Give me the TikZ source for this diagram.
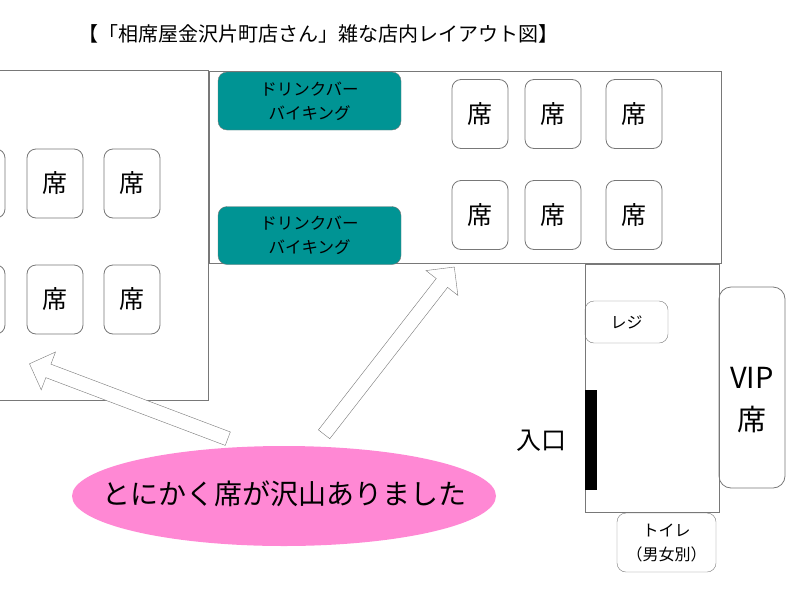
\documentclass[tikz,border=0pt]{standalone}
\usepackage{fontspec}
\setmainfont{Noto Sans CJK JP}
\usetikzlibrary{shapes.geometric, shapes.arrows}
\definecolor{barteal}{RGB}{0,148,148}
\definecolor{pinkoval}{RGB}{255,136,212}
\definecolor{linegray}{RGB}{120,120,120}
\tikzset{
    room/.style={draw=linegray, line width=0.8pt},
    seat/.style={draw=linegray, rounded corners=9pt, line width=0.8pt, minimum width=56pt, minimum height=69pt, font=\fontsize{25}{27}\selectfont},
    barbox/.style={draw=linegray, fill=barteal, rounded corners=9pt, minimum width=183pt, minimum height=58pt, align=center, font=\fontsize{16.5}{24}\selectfont},
    bigarrow/.style={draw=linegray, single arrow, fill=white, single arrow head extend=13pt, single arrow head indent=0pt, inner sep=0pt, minimum height=212pt}
}
\begin{document}
\begin{tikzpicture}[x=1pt,y=-1pt]
\useasboundingbox (0,0) rectangle (800,600);
% title
\node (title) at (318,34) {\fontsize{20}{22}\selectfont 【「相席屋金沢片町店さん」雑な店内レイアウト図】};
% rooms
\draw[room] (-10,70) rectangle (208,400);
\draw[room] (209,71) rectangle (721,263);
\draw[room] (585,264) rectangle (719,512);
% left seats
\node[seat] (sL1) at (-23,183.5) {};
\node[seat] (sL2) at (55,183.5) {席};
\node[seat] (sL3) at (132,183.5) {席};
\node[seat] (sL4) at (-23,299.5) {};
\node[seat] (sL5) at (55,299.5) {席};
\node[seat] (sL6) at (132,299.5) {席};
% drink bars
\node[barbox] (bar1) at (309.5,101) {ドリンクバー\\バイキング};
\node[barbox] (bar2) at (309.5,235.5) {ドリンクバー\\バイキング};
% top seats
\node[seat] (sT1) at (480,114) {席};
\node[seat] (sT2) at (553,114) {席};
\node[seat] (sT3) at (634,114) {席};
\node[seat] (sT4) at (480,215) {席};
\node[seat] (sT5) at (553,215) {席};
\node[seat] (sT6) at (634,215) {席};
% right side
\node[draw=linegray, rounded corners=9pt, minimum width=83pt, minimum height=42pt, font=\fontsize{16}{18}\selectfont] (regi) at (626.5,322) {レジ};
\fill[black] (585,390) rectangle (597,490);
\node (entry) at (541,441) {\fontsize{25}{27}\selectfont 入口};
\node[draw=linegray, rounded corners=12pt, minimum width=66pt, minimum height=201pt, line width=0.8pt] (vip) at (752,387.5) {};
\node[align=center, font=\fontsize{29}{42}\selectfont] (viptext) at (752,400) {VIP\\席};
\node[draw=linegray, rounded corners=9pt, minimum width=99pt, minimum height=59pt, align=center, font=\fontsize{16}{24}\selectfont] (toilet) at (666.5,542.5) {トイレ\\（男女別）};
% arrows and comment
\node[bigarrow, rotate=159.3] (arrL) at (132,402.5) {\rule{0pt}{14pt}};
\node[bigarrow, rotate=52.1] (arrR) at (387,353.5) {\rule{0pt}{14pt}};
\fill[pinkoval] (284,496) ellipse [x radius=212, y radius=50];
\node[font=\fontsize{28}{30}\selectfont] (note) at (284,494) {とにかく席が沢山ありました};
\end{tikzpicture}
\end{document}
